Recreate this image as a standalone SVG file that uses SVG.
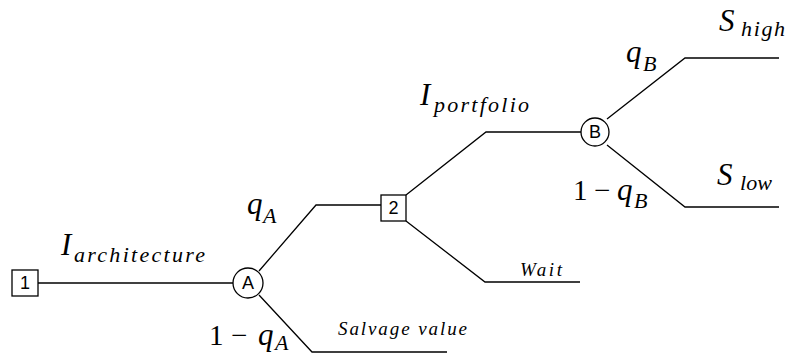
<svg xmlns="http://www.w3.org/2000/svg" width="786" height="354" viewBox="0 0 786 354">
<style>
.ln{fill:none;stroke:#000;stroke-width:1.3}
.nd{fill:#fff;stroke:#000;stroke-width:1.3}
.nl{font-family:"Liberation Sans",Arial,sans-serif;font-size:18px;text-anchor:middle;dominant-baseline:central}
.m{font-family:"Liberation Serif","Times New Roman",serif;font-style:italic;font-size:31px}
.mu{font-family:"Liberation Serif","Times New Roman",serif;font-size:29px}
.s{font-family:"Liberation Serif","Times New Roman",serif;font-style:italic;font-size:22px}
.t{font-family:"Liberation Serif","Times New Roman",serif;font-style:italic;font-size:19px}
</style>
<rect width="786" height="354" fill="#fff"/>
<g id="connectors">
<path class="ln" d="M38,283 H233"/>
<path class="ln" d="M259,271 L316,205 H381"/>
<path class="ln" d="M259,295 L312,352 H447"/>
<path class="ln" d="M406,195 L486,132 H581"/>
<path class="ln" d="M406,221 L485,282 H580"/>
<path class="ln" d="M607,119 L685,58 H779"/>
<path class="ln" d="M607,145 L685,207 H779"/>
</g>
<g id="node1"><rect class="nd" x="12" y="270" width="26" height="26"/><text class="nl" x="25" y="283">1</text></g>
<g id="nodeA"><circle class="nd" cx="248" cy="283" r="15"/><text class="nl" x="248" y="283">A</text></g>
<g id="node2"><rect class="nd" x="381" y="195" width="25" height="26"/><text class="nl" x="393.5" y="208">2</text></g>
<g id="nodeB"><circle class="nd" cx="595" cy="132" r="14"/><text class="nl" x="595" y="132">B</text></g>
<g id="labels">
<text class="m" x="61" y="255">I</text><text class="s" x="74" y="262" textLength="131" lengthAdjust="spacing">architecture</text>
<text class="m" x="247" y="214">q</text><text class="s" x="263" y="223">A</text>
<text class="mu" x="209" y="345">1</text><text class="mu" x="231" y="345">−</text><text class="m" x="258" y="345">q</text><text class="s" x="275" y="350">A</text>
<text class="m" x="420" y="105">I</text><text class="s" x="434" y="112" textLength="95" lengthAdjust="spacing">portfolio</text>
<text class="m" x="626" y="62">q</text><text class="s" x="643" y="71">B</text>
<text class="m" x="719" y="31">S</text><text class="s" x="741" y="36" textLength="44" lengthAdjust="spacing">high</text>
<text class="m" x="717" y="185">S</text><text class="s" x="740" y="190" textLength="32" lengthAdjust="spacing">low</text>
<text class="mu" x="573" y="200">1</text><text class="mu" x="594" y="200">−</text><text class="m" x="617" y="200">q</text><text class="s" x="634" y="208">B</text>
<text class="t" x="338" y="335" textLength="129" lengthAdjust="spacing">Salvage value</text>
<text class="t" x="520" y="276" textLength="42" lengthAdjust="spacing">Wait</text>
</g>
</svg>
